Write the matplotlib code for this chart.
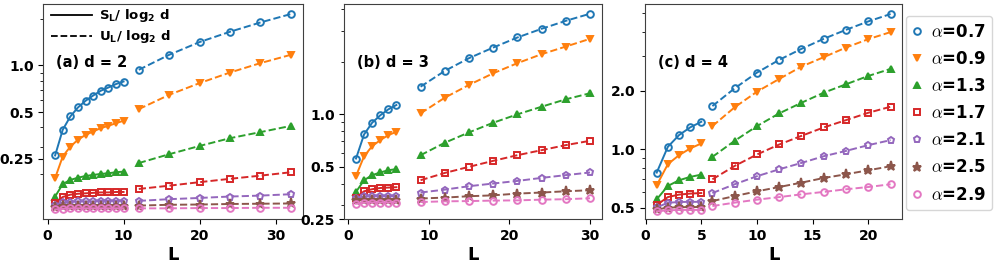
import numpy as np
import matplotlib
matplotlib.use("Agg")
import matplotlib.pyplot as plt
from matplotlib.lines import Line2D
from matplotlib.ticker import NullFormatter
from matplotlib.font_manager import FontProperties

plt.rcParams['font.family'] = ['DejaVu Sans']
plt.rcParams['font.weight'] = 'bold'
plt.rcParams['axes.labelweight'] = 'bold'
plt.rcParams['mathtext.fontset'] = 'dejavusans'

alphas = ['0.7', '0.9', '1.3', '1.7', '2.1', '2.5', '2.9']
markers = ['o', 'v', '^', 's', 'p', '*', 'o']
filled = [False, True, True, False, False, True, False]
colors = ['C0', 'C1', 'C2', 'C3', 'C4', 'C5', 'C6']

# panel (a), d = 2
L_s_a = [1, 2, 3, 4, 5, 6, 7, 8, 9, 10]
L_u_a = [12, 16, 20, 24, 28, 32]
S_a = [
    [0.263, 0.385, 0.469, 0.536, 0.592, 0.640, 0.687, 0.721, 0.759, 0.788],
    [0.188, 0.259, 0.300, 0.332, 0.357, 0.375, 0.395, 0.408, 0.425, 0.440],
    [0.143, 0.172, 0.183, 0.189, 0.194, 0.197, 0.200, 0.202, 0.205, 0.207],
    [0.130, 0.142, 0.147, 0.149, 0.150, 0.151, 0.152, 0.152, 0.153, 0.153],
    [0.127, 0.131, 0.132, 0.133, 0.133, 0.133, 0.134, 0.134, 0.134, 0.134],
    [0.122, 0.124, 0.125, 0.125, 0.125, 0.125, 0.125, 0.125, 0.125, 0.125],
    [0.118, 0.119, 0.120, 0.120, 0.120, 0.120, 0.120, 0.120, 0.120, 0.120],
]
U_a = [
    [0.938, 1.172, 1.416, 1.650, 1.894, 2.146],
    [0.523, 0.647, 0.770, 0.901, 1.036, 1.172],
    [0.235, 0.268, 0.303, 0.340, 0.372, 0.408],
    [0.160, 0.168, 0.177, 0.186, 0.195, 0.205],
    [0.134, 0.1375, 0.140, 0.143, 0.145, 0.148],
    [0.125, 0.1265, 0.127, 0.128, 0.1285, 0.129],
    [0.120, 0.120, 0.1205, 0.1205, 0.121, 0.121],
]

# panel (b), d = 3
L_s_b = [1, 2, 3, 4, 5, 6]
L_u_b = [9, 12, 15, 18, 21, 24, 27, 30]
S_b = [
    [0.558, 0.767, 0.895, 0.987, 1.068, 1.131],
    [0.443, 0.575, 0.657, 0.711, 0.760, 0.794],
    [0.359, 0.419, 0.448, 0.464, 0.478, 0.485],
    [0.333, 0.362, 0.372, 0.378, 0.380, 0.382],
    [0.330, 0.338, 0.340, 0.340, 0.340, 0.340],
    [0.321, 0.323, 0.324, 0.324, 0.324, 0.324],
    [0.307, 0.311, 0.312, 0.312, 0.312, 0.312],
]
U_b = [
    [1.441, 1.775, 2.100, 2.416, 2.760, 3.096, 3.440, 3.777],
    [1.013, 1.246, 1.475, 1.720, 1.966, 2.214, 2.448, 2.712],
    [0.583, 0.687, 0.788, 0.895, 1.000, 1.106, 1.220, 1.321],
    [0.419, 0.461, 0.500, 0.541, 0.583, 0.623, 0.666, 0.705],
    [0.356, 0.370, 0.387, 0.401, 0.415, 0.432, 0.448, 0.464],
    [0.329, 0.333, 0.339, 0.343, 0.351, 0.356, 0.362, 0.367],
    [0.314, 0.317, 0.318, 0.320, 0.321, 0.324, 0.326, 0.330],
]

# panel (c), d = 4
L_s_c = [1, 2, 3, 4, 5]
L_u_c = [6, 8, 10, 12, 14, 16, 18, 20, 22]
S_c = [
    [0.758, 1.028, 1.181, 1.294, 1.383],
    [0.652, 0.837, 0.931, 1.008, 1.070],
    [0.552, 0.647, 0.692, 0.720, 0.740],
    [0.517, 0.567, 0.584, 0.591, 0.595],
    [0.502, 0.530, 0.535, 0.536, 0.536],
    [0.490, 0.500, 0.503, 0.504, 0.504],
    [0.479, 0.485, 0.487, 0.487, 0.487],
]
U_c = [
    [1.666, 2.056, 2.475, 2.880, 3.280, 3.695, 4.110, 4.540, 4.955],
    [1.314, 1.642, 1.975, 2.297, 2.660, 2.973, 3.332, 3.680, 4.000],
    [0.913, 1.104, 1.314, 1.528, 1.733, 1.952, 2.157, 2.380, 2.587],
    [0.700, 0.820, 0.939, 1.057, 1.171, 1.294, 1.411, 1.539, 1.653],
    [0.595, 0.660, 0.726, 0.788, 0.850, 0.920, 0.980, 1.049, 1.113],
    [0.541, 0.574, 0.607, 0.639, 0.673, 0.711, 0.743, 0.779, 0.817],
    [0.510, 0.531, 0.550, 0.567, 0.586, 0.603, 0.622, 0.639, 0.660],
]

panels = [
    ('(a) d = 2', L_s_a, L_u_a, S_a, U_a, (0.102, 2.48), [0.25, 0.5, 1.0], ['0.25', '0.5', '1.0']),
    ('(b) d = 3', L_s_b, L_u_b, S_b, U_b, (0.25, 4.28), [0.25, 0.5, 1.0], ['0.25', '0.5', '1.0']),
    ('(c) d = 4', L_s_c, L_u_c, S_c, U_c, (0.436, 5.56), [0.5, 1.0, 2.0], ['0.5', '1.0', '2.0']),
]
lefts = [0.0435, 0.3457, 0.6476]
widths = [0.2604, 0.2584, 0.2583]


def marker_style(i):
    kw = dict(color=colors[i], marker=markers[i], mew=1.4,
              ms=6.5 if markers[i] == '*' else 4.8)
    if filled[i]:
        kw['markerfacecolor'] = colors[i]
    else:
        kw['fillstyle'] = 'none'
    return kw


fig = plt.figure(figsize=(9.96, 2.66), dpi=100)
axes = []
for k, (title, Ls, Lu, S, U, ylim, yt, ytl) in enumerate(panels):
    ax = fig.add_axes([lefts[k], 0.1756, widths[k], 0.8083])
    for i in range(len(alphas)):
        ax.plot(Ls, S[i], ls='-', lw=1.4, **marker_style(i))
        ax.plot(Lu, U[i], ls='--', lw=1.4, **marker_style(i))
    ax.set_yscale('log')
    ax.set_ylim(*ylim)
    ax.set_yticks(yt)
    ax.set_yticklabels(ytl)
    ax.yaxis.set_minor_formatter(NullFormatter())
    ax.tick_params(labelsize=10)
    ax.set_xlabel('L', fontsize=13, labelpad=2)
    for sp in ax.spines.values():
        sp.set_edgecolor('0.25')
    ax.text(0.05, 0.73, title, transform=ax.transAxes, fontsize=10.5,
            va='center', ha='left')
    axes.append(ax)

style_handles = [Line2D([], [], color='black', ls='-', lw=1.3),
                 Line2D([], [], color='black', ls='--', lw=1.3)]
style_labels = [r'S$_\mathbf{L}$/ log$_\mathbf{2}$ d', r'U$_\mathbf{L}$/ log$_\mathbf{2}$ d']
axes[0].legend(style_handles, style_labels, loc='upper left', frameon=False,
               fontsize=9.5, handlelength=3.1, handletextpad=0.6, borderaxespad=0.0,
               borderpad=0.3, labelspacing=0.3, bbox_to_anchor=(0.013, 1.005))

alpha_handles = [Line2D([], [], ls='none', **marker_style(i)) for i in range(len(alphas))]
alpha_labels = [r'$\alpha$=' + a for a in alphas]
fig.legend(alpha_handles, alpha_labels, loc='center left',
           bbox_to_anchor=(0.9095, 0.575), borderaxespad=0.0,
           prop=FontProperties(family='DejaVu Sans', size=12, weight='bold', math_fontfamily='cm'),
           handlelength=0.5, handletextpad=0.6, labelspacing=0.55)

fig.savefig('out.png', dpi=100)
